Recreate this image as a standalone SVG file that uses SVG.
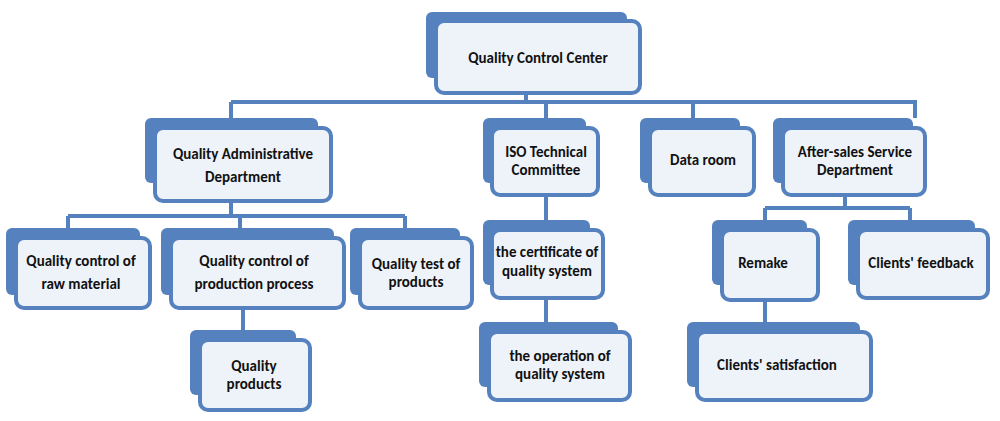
<svg xmlns="http://www.w3.org/2000/svg" width="1000" height="421" viewBox="0 0 1000 421">
<style>
.b{fill:#5582bf}
.f{fill:#eef3f9;stroke:#5582bf;stroke-width:4}
.c{stroke:#5582bf;stroke-width:4;fill:none}
text{font-family:Calibri,"Liberation Sans",sans-serif;font-weight:bold;font-size:15px;fill:#111;text-anchor:middle}
</style>
<rect width="1000" height="421" fill="#fff"/>
<g id="connectors" class="c">
<path d="M526 93V102M231 102H917M231 102V118M546 102V118M693 102V118M915 102V118"/>
<path d="M231 201V216M68 216H405M68 216V228M240 216V228M405 216V228M243 308V330"/>
<path d="M546 195V220M546 298V322"/>
<path d="M845 195V208M765 208H910M765 208V220M910 208V220M765 300V322"/>
</g>
<g id="n1"><rect class="b" x="426" y="12" width="201" height="66" rx="6"/><rect class="f" x="436" y="21" width="204" height="72" rx="8"/><text x="538" y="63" font-size="18">Quality Control Center</text></g>
<g id="n2"><rect class="b" x="145" y="118" width="173" height="65" rx="6"/><rect class="f" x="155" y="128" width="176" height="73" rx="8"/><text x="243" y="159">Quality Administrative</text><text x="243" y="182">Department</text></g>
<g id="n3"><rect class="b" x="483" y="118" width="103" height="65" rx="6"/><rect class="f" x="492" y="128" width="106" height="67" rx="8"/><text x="546" y="157">ISO Technical</text><text x="546" y="175">Committee</text></g>
<g id="n4"><rect class="b" x="640" y="118" width="100" height="65" rx="6"/><rect class="f" x="650" y="128" width="104" height="67" rx="8"/><text x="703" y="165">Data room</text></g>
<g id="n5"><rect class="b" x="773" y="118" width="140" height="65" rx="6"/><rect class="f" x="783" y="128" width="142" height="67" rx="8"/><text x="855" y="157">After-sales Service</text><text x="855" y="175">Department</text></g>
<g id="n6"><rect class="b" x="6" y="228" width="134" height="67" rx="6"/><rect class="f" x="16" y="238" width="134" height="70" rx="8"/><text x="81" y="266">Quality control of</text><text x="81" y="289">raw material</text></g>
<g id="n7"><rect class="b" x="161" y="228" width="173" height="67" rx="6"/><rect class="f" x="171" y="238" width="173" height="70" rx="8"/><text x="254" y="266">Quality control of</text><text x="254" y="289">production process</text></g>
<g id="n8"><rect class="b" x="350" y="228" width="110" height="67" rx="6"/><rect class="f" x="360" y="238" width="112" height="70" rx="8"/><text x="416" y="269">Quality test of</text><text x="416" y="287">products</text></g>
<g id="n9"><rect class="b" x="190" y="330" width="106" height="65" rx="6"/><rect class="f" x="200" y="340" width="110" height="70" rx="8"/><text x="254" y="371">Quality</text><text x="254" y="389">products</text></g>
<g id="n10"><rect class="b" x="483" y="220" width="107" height="65" rx="6"/><rect class="f" x="492" y="230" width="111" height="68" rx="8"/><text x="547" y="257">the certificate of</text><text x="547" y="276">quality system</text></g>
<g id="n11"><rect class="b" x="479" y="322" width="139" height="65" rx="6"/><rect class="f" x="489" y="332" width="141" height="68" rx="8"/><text x="560" y="361">the operation of</text><text x="560" y="379">quality system</text></g>
<g id="n12"><rect class="b" x="712" y="220" width="95" height="65" rx="6"/><rect class="f" x="722" y="230" width="96" height="70" rx="8"/><text x="763" y="268">Remake</text></g>
<g id="n13"><rect class="b" x="848" y="220" width="127" height="65" rx="6"/><rect class="f" x="858" y="230" width="130" height="68" rx="8"/><text x="921" y="268">Clients' feedback</text></g>
<g id="n14"><rect class="b" x="687" y="322" width="173" height="65" rx="6"/><rect class="f" x="697" y="332" width="174" height="68" rx="8"/><text x="777" y="370">Clients' satisfaction</text></g>
</svg>
